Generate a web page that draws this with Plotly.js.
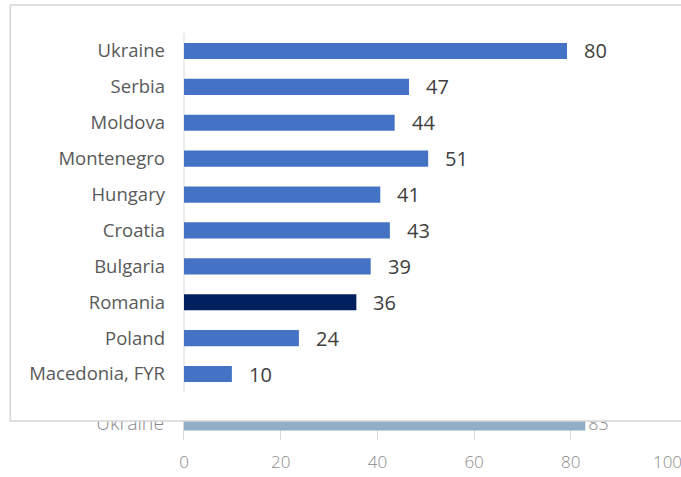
<!DOCTYPE html>
<html>
<head>
<meta charset="utf-8">
<script src="https://cdn.plot.ly/plotly-3.0.1.min.js"></script>
<style>html,body{margin:0;padding:0;background:#fff;}#chart{width:681px;height:477px;}</style>
</head>
<body>
<div id="chart"></div>
<script>
// Main (front) chart data, top to bottom
var countries = ['Ukraine', 'Serbia', 'Moldova', 'Montenegro', 'Hungary', 'Croatia', 'Bulgaria', 'Romania', 'Poland', 'Macedonia, FYR'];
var values = [80, 47, 44, 51, 41, 43, 39, 36, 24, 10];
var highlight = 'Romania';

// Background (partly hidden) chart data
var backCountries = ['Ukraine'];
var backValues = [83];
var backTicks = [0, 20, 40, 60, 80, 100];

var blue = '#4472c4', navy = '#002060', backBlue = '#91aec6';
var barColors = countries.map(function (c) { return c === highlight ? navy : blue; });

var catFont = {family: 'Open Sans, Noto Sans, sans-serif', size: 18.5, color: '#595959'};
var backFont = {family: 'Open Sans, Lato, sans-serif', size: 17, color: '#8a8a8a', weight: 300};
var backCatFont = {family: 'Open Sans, Lato, sans-serif', size: 19.5, color: '#8a8a8a', weight: 300};

var traces = [
  {
    type: 'bar', orientation: 'h',
    x: backValues, y: backCountries,
    xaxis: 'x', yaxis: 'y',
    marker: {color: backBlue},
    text: backValues.map(String), textposition: 'outside', constraintext: 'none',
    cliponaxis: false,
    textfont: {family: 'Open Sans, Lato, sans-serif', size: 18, color: '#8a8a8a', weight: 300},
    hoverinfo: 'skip'
  },
  {
    type: 'bar', orientation: 'h',
    x: values, y: countries,
    xaxis: 'x2', yaxis: 'y2',
    marker: {color: barColors},
    hoverinfo: 'skip'
  }
];

var annotations = countries.map(function (c, i) {
  return {
    x: values[i], y: c, xref: 'x2', yref: 'y2',
    text: String(values[i]), showarrow: false,
    xanchor: 'left', yanchor: 'middle', xshift: 15,
    font: {family: 'Open Sans, Noto Sans, sans-serif', size: 20, color: '#404040'}
  };
});

var layout = {
  width: 681, height: 477,
  margin: {l: 0, r: 0, t: 0, b: 0},
  paper_bgcolor: '#ffffff', plot_bgcolor: 'rgba(0,0,0,0)',
  showlegend: false,
  bargap: 0.55,
  // background chart axes
  xaxis: {
    domain: [0.27019, 0.98018], range: [0, 100], anchor: 'y',
    tickvals: backTicks, ticktext: backTicks.map(String),
    showgrid: true, gridcolor: '#d9d9d9', gridwidth: 1,
    zeroline: false, showline: false, ticks: '',
    tickfont: backFont, ticklabelstandoff: 10, ticklabeloverflow: 'allow',
    automargin: false, fixedrange: true
  },
  yaxis: {
    domain: [0.07757, 0.20335], range: [-0.5, 1.239], anchor: 'x', type: 'category',
    showgrid: false, zeroline: false,
    showline: true, linecolor: '#d9d9d9', linewidth: 1,
    ticks: 'outside', tickson: 'boundaries', ticklen: 5, tickcolor: '#d9d9d9',
    tickfont: backCatFont, ticklabelstandoff: 15, automargin: false, fixedrange: true
  },
  // main (front) chart axes
  xaxis2: {
    domain: [0.01028, 1], range: [-36.97, 103.81], anchor: 'y2',
    showgrid: false, zeroline: false, showline: false, showticklabels: false, ticks: '',
    automargin: false, fixedrange: true
  },
  yaxis2: {
    domain: [0.11321, 0.99371], range: [10.365, -1.337], anchor: 'free', position: 0.27019,
    type: 'category', showgrid: false, zeroline: false, showline: false, ticks: '',
    tickfont: catFont, ticklabelstandoff: 19, automargin: false, fixedrange: true
  },
  shapes: [
    {
      type: 'rect', xref: 'x2', yref: 'y2', layer: 'below',
      x0: -36.3, x1: 120, y0: -1.281, y1: 10.31,
      fillcolor: '#ffffff', line: {color: '#d6d6d6', width: 1.5}
    },
    {
      type: 'line', xref: 'x2', yref: 'y2', layer: 'below',
      x0: 0, x1: 0, y0: -0.5, y1: countries.length - 0.5,
      line: {color: '#d9d9d9', width: 1}
    }
  ],
  annotations: annotations
};

Plotly.newPlot('chart', traces, layout, {displayModeBar: false, staticPlot: true});
</script>
</body>
</html>
